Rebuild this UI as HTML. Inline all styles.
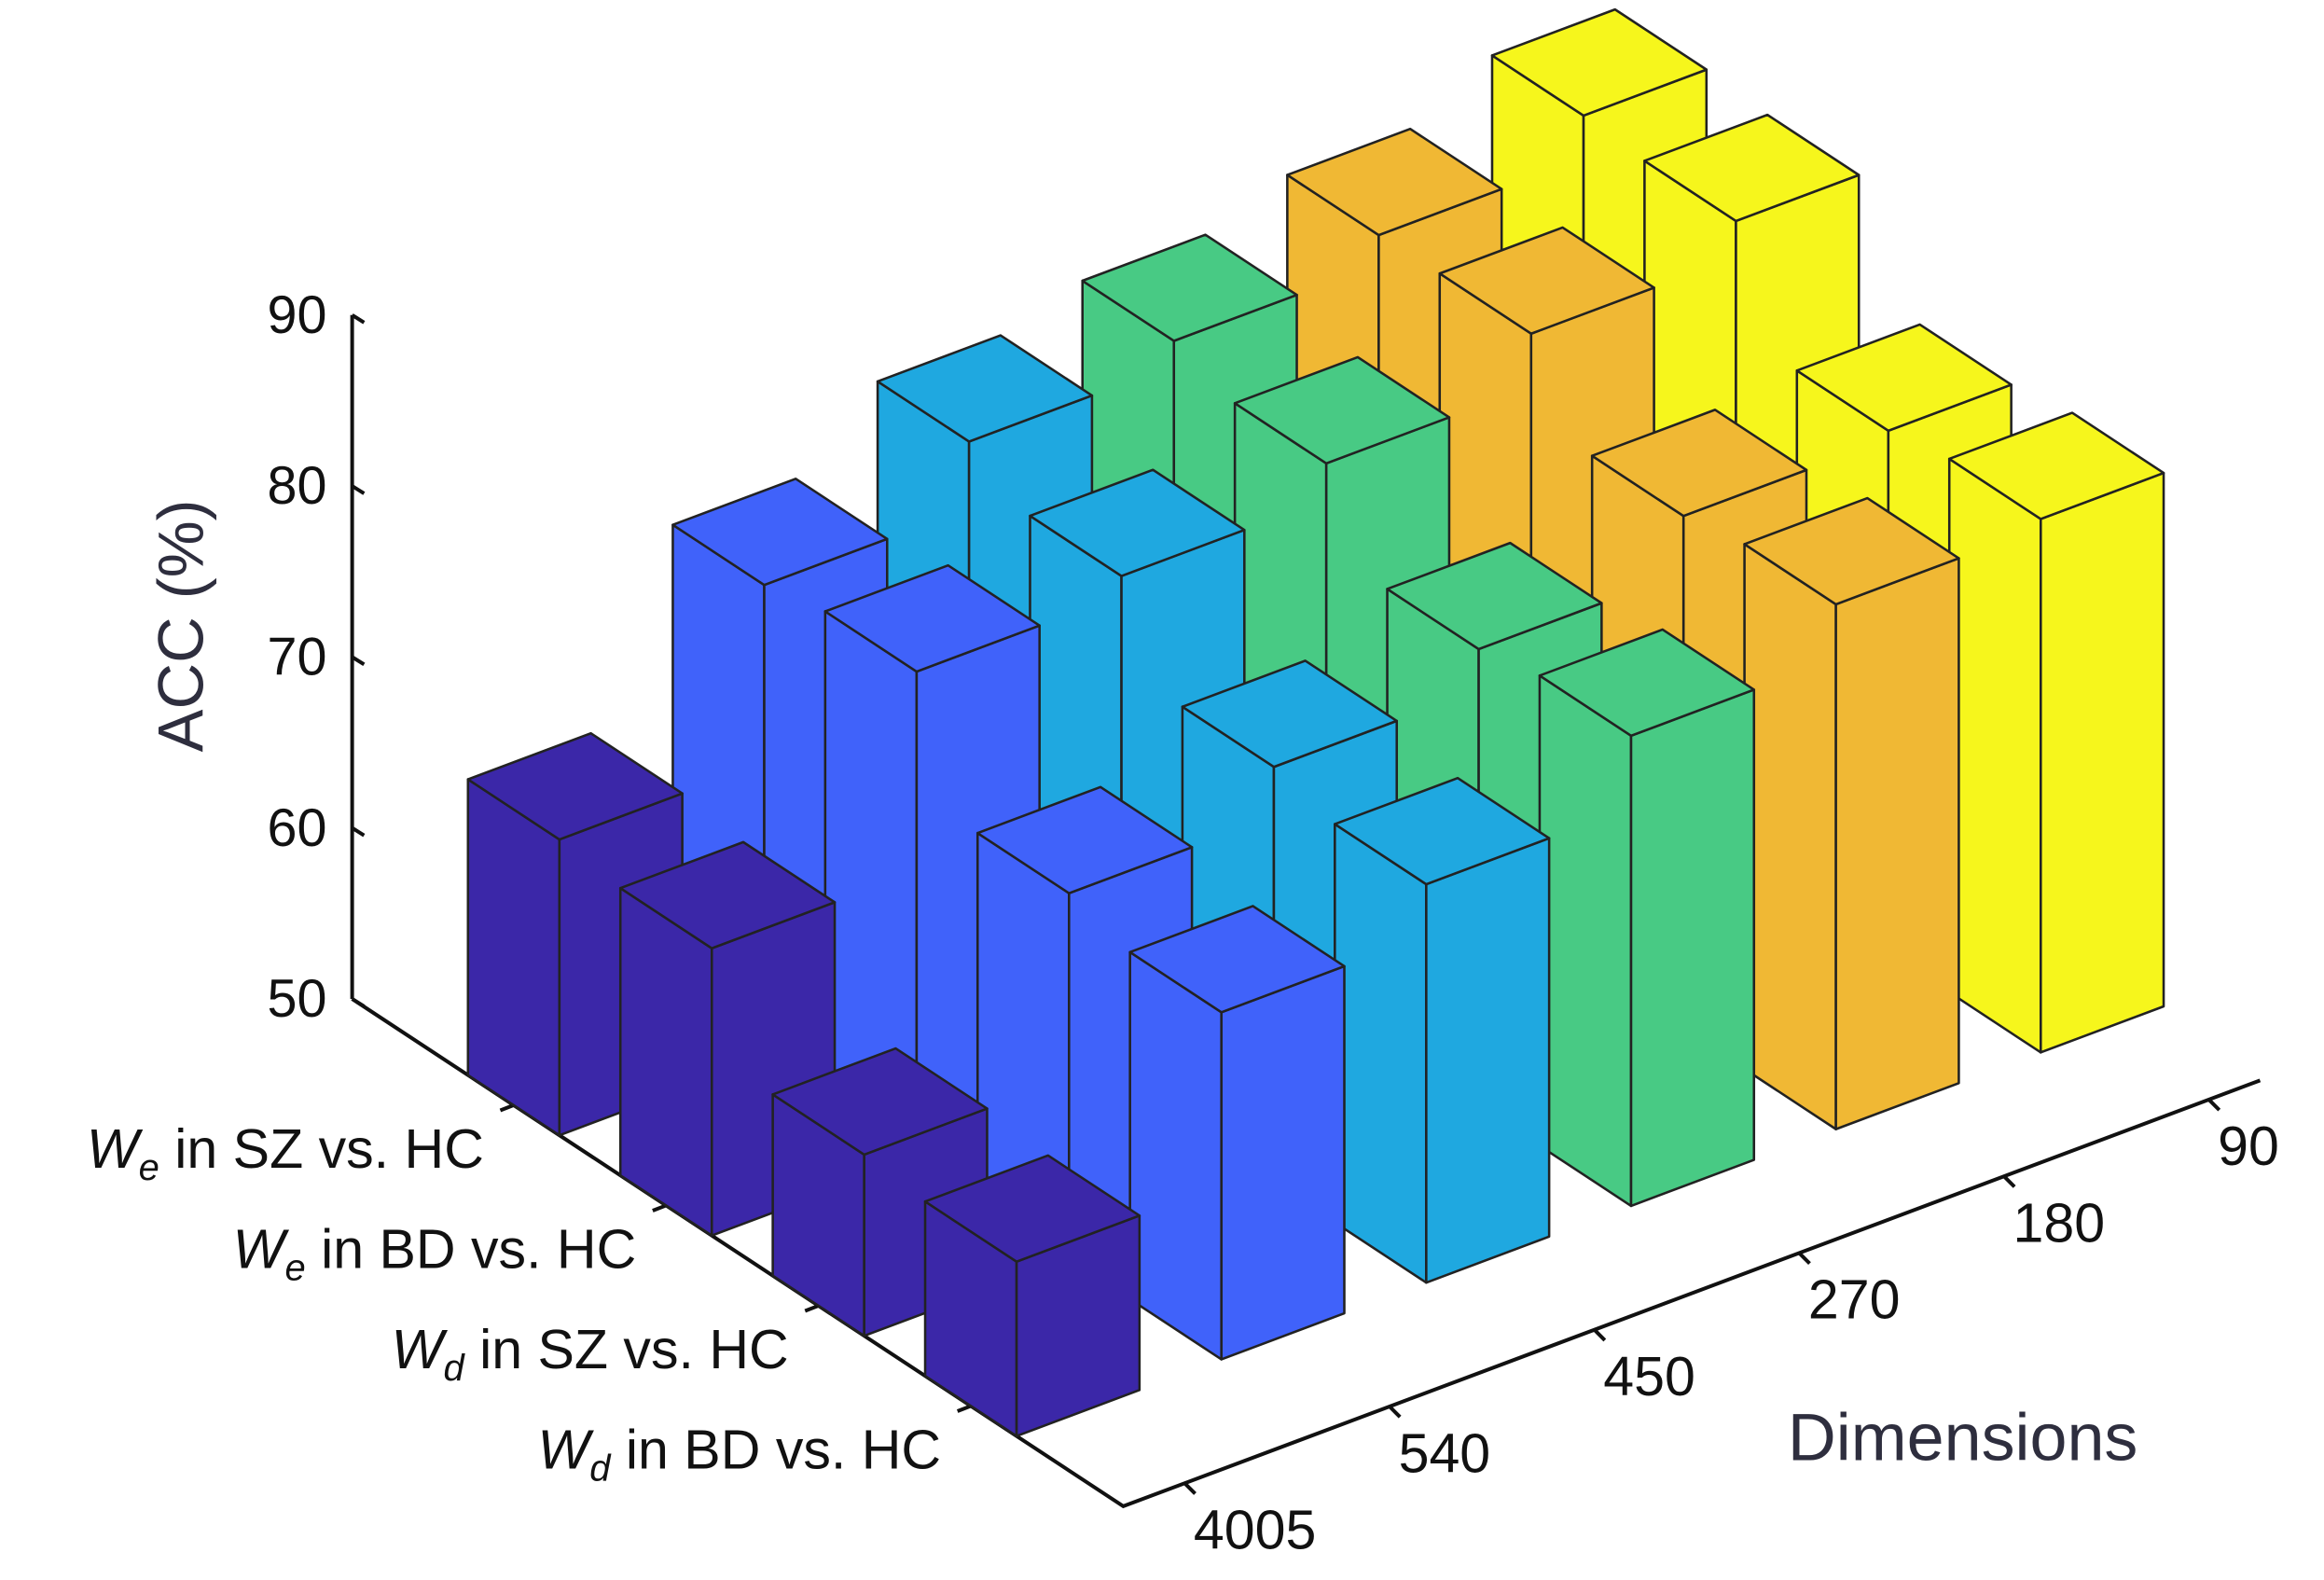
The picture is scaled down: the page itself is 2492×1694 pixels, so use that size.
<!DOCTYPE html>
<html><head><meta charset="utf-8"><style>
html,body{margin:0;padding:0;background:#fff;}
svg{display:block;font-family:"Liberation Sans",Arial,sans-serif;}
</style></head><body>
<svg id="chart" width="2492" height="1694" viewBox="0 0 1560 1060.5" xmlns="http://www.w3.org/2000/svg">
<rect width="1560" height="1060.5" fill="#fff"/>
<g id="axes"></g>
<g id="bars"></g>
<g id="labels"></g>
</svg>
<script>
const rowLabels = [["W","e"," in SZ vs. HC"],["W","e"," in BD vs. HC"],["W","d"," in SZ vs. HC"],["W","d"," in BD vs. HC"]];
const colLabels = ["4005","540","450","270","180","90"];
const zTicks = [50,60,70,80,90];
const colColors = ["#3b27a8","#4062fa","#1fa8e0","#48ca84","#f0b834","#f6f61c"];
const accWeSZ = [67.3,77.7,81.6,83.0,84.7,87.2];
const accWeBD = [66.8,78.5,79.6,81.7,84.8,86.9];
const accWdSZ = [60.6,71.4,74.3,76.7,80.0,80.5];
const accWdBD = [60.2,70.3,73.3,77.5,80.7,81.2];
const values = [accWeSZ, accWeBD, accWdSZ, accWdBD];

const NS = "http://www.w3.org/2000/svg";
const C = [754,1011], RV = [102.3,67.3], CV = [137.5,-51.5], ZS = 11.475, ZMIN = 50;
const ABACK = 5.06;
function proj(a,b,z){ return [C[0]-a*RV[0]+b*CV[0], C[1]-a*RV[1]+b*CV[1]-(z-ZMIN)*ZS]; }
function rowA(i){ return 4-i; }
function colB(j){ return 0.3+j; }
function mk(tag, attrs, parent){ const e=document.createElementNS(NS,tag); for(const k in attrs) e.setAttribute(k,attrs[k]); parent.appendChild(e); return e; }
function pts(arr){ return arr.map(p=>p[0].toFixed(2)+","+p[1].toFixed(2)).join(" "); }

const axes=document.getElementById('axes'), bars=document.getElementById('bars'), labels=document.getElementById('labels');
const zb=proj(ABACK,0,ZMIN), zt=proj(ABACK,0,90);
let l=mk('line',{x1:zb[0],y1:zb[1],x2:zt[0],y2:zt[1],stroke:'#111','stroke-width':2.5},axes);
 
zTicks.forEach(v=>{
  const p=proj(ABACK,0,v);
  const t=mk('line',{x1:p[0],y1:p[1],x2:p[0]+8,y2:p[1]+5,stroke:'#111','stroke-width':2.5},axes);
   
  const tx=mk('text',{x:p[0]-17,y:p[1]+12,'text-anchor':'end','font-size':36,fill:'#111'},labels);
  tx.textContent=v;
   
});
const p0=proj(ABACK,0,ZMIN), p1=proj(0,0,ZMIN), p2=proj(0,5.55,ZMIN);
l=mk('polyline',{points:pts([p0,p1,p2]),fill:'none',stroke:'#111','stroke-width':2.5},axes);
 
rowLabels.forEach((lab,i)=>{
  const p=proj(rowA(i),0,ZMIN);
  const t=mk('line',{x1:p[0],y1:p[1],x2:p[0]-9,y2:p[1]+3.5,stroke:'#111','stroke-width':2.5},axes);
   
  const tx=mk('text',{x:p[0]-20,y:p[1]+42,'text-anchor':'end','font-size':37,fill:'#111'},labels);
  const s1=mk('tspan',{'font-style':'italic'},tx); s1.textContent=lab[0];
  const s2=mk('tspan',{'font-style':'italic','font-size':25,dy:8},tx); s2.textContent=lab[1];
  const s3=mk('tspan',{dy:-8},tx); s3.textContent=lab[2];
   
});
colLabels.forEach((lab,j)=>{
  const p=proj(0,colB(j),ZMIN);
  const t=mk('line',{x1:p[0],y1:p[1],x2:p[0]+7,y2:p[1]+7,stroke:'#111','stroke-width':2.5},axes);
   
  const tx=mk('text',{x:p[0]+6,y:p[1]+44,'font-size':37,fill:'#111'},labels);
  tx.textContent=lab;
   
});
let tt=mk('text',{x:1200,y:980,'font-size':45,fill:'#2e2e3e'},labels); tt.textContent='Dimensions';
 
tt=mk('text',{x:0,y:0,'font-size':43,fill:'#2e2e3e','text-anchor':'middle',transform:'translate(136,420) rotate(-90)'},labels); tt.textContent='ACC (%)';
 

const order=[];
values.forEach((row,i)=>row.forEach((v,j)=>order.push([i,j])));
order.sort((x,y)=>(rowA(y[0])+colB(y[1]))-(rowA(x[0])+colB(x[1])));
const W=0.3;
order.forEach(([i,j])=>{
  const v=values[i][j], a=rowA(i), b=colB(j), col=colColors[j];
  const g=mk('g',{},bars);
   
  const st={fill:col,stroke:'#222','stroke-width':1.6,'stroke-linejoin':'round'};
  mk('polygon',Object.assign({points:pts([proj(a+W,b-W,ZMIN),proj(a-W,b-W,ZMIN),proj(a-W,b-W,v),proj(a+W,b-W,v)])},st),g);
  mk('polygon',Object.assign({points:pts([proj(a-W,b-W,ZMIN),proj(a-W,b+W,ZMIN),proj(a-W,b+W,v),proj(a-W,b-W,v)])},st),g);
  mk('polygon',Object.assign({points:pts([proj(a+W,b-W,v),proj(a-W,b-W,v),proj(a-W,b+W,v),proj(a+W,b+W,v)])},st),g);
});
</script>
</body></html>
